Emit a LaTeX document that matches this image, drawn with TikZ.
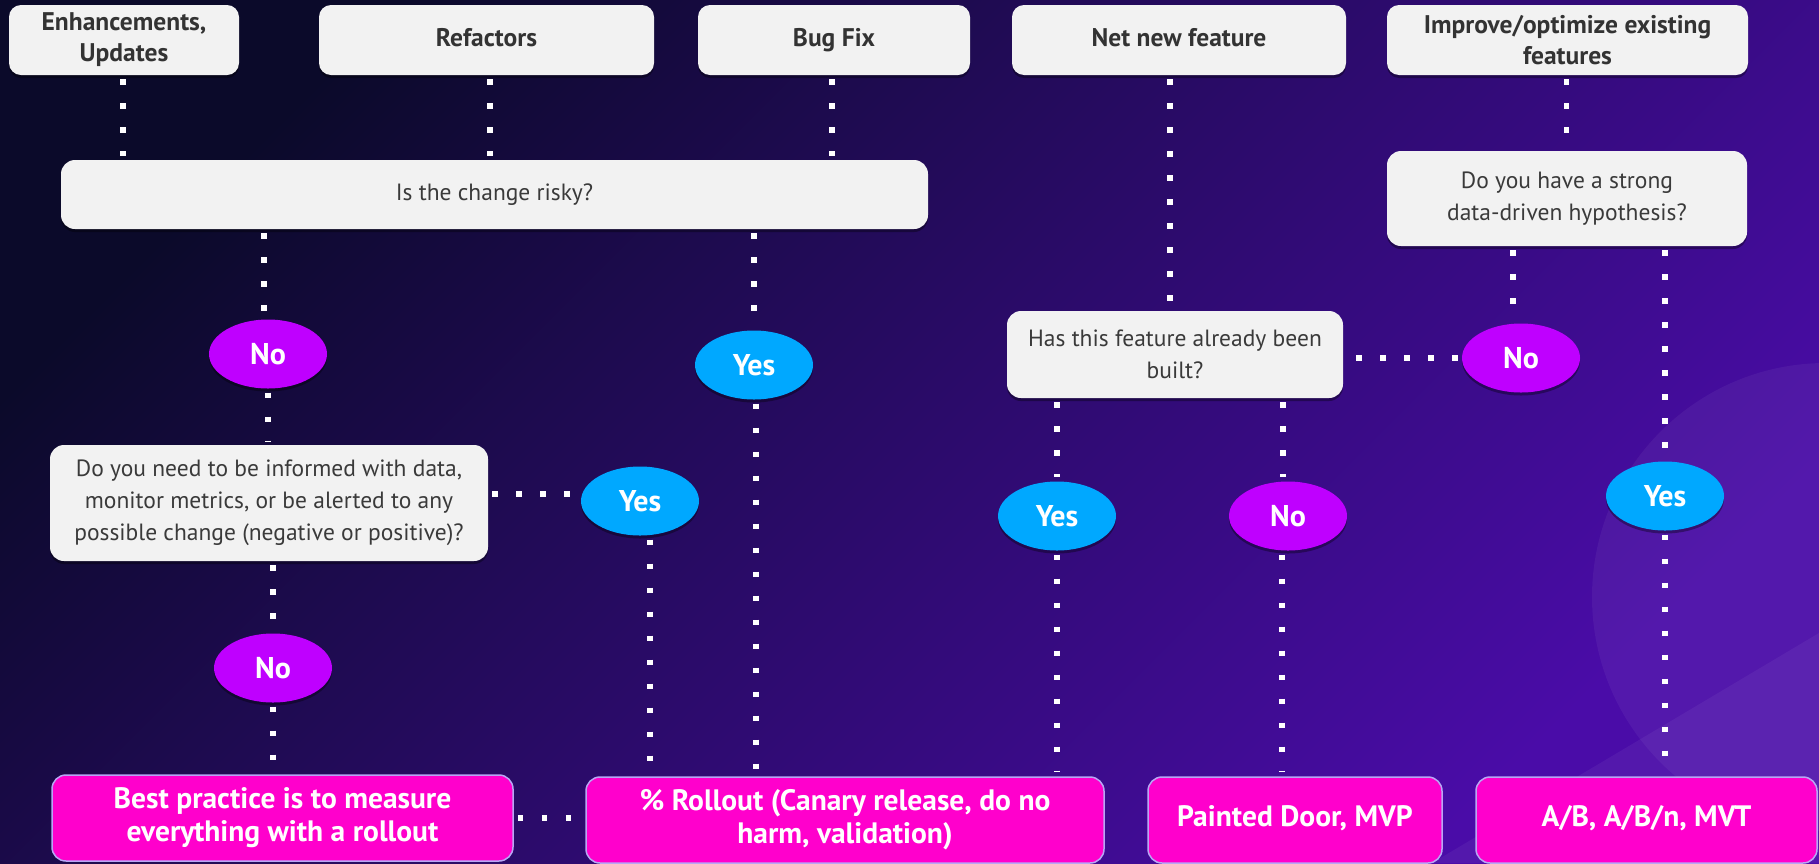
\documentclass[tikz,border=0pt]{standalone}
\usepackage{fontspec}
\setmainfont{PT Sans}
\usetikzlibrary{shapes.geometric,shadows}
\definecolor{bgA}{HTML}{0B0A2A}
\definecolor{bgB}{HTML}{26095F}
\definecolor{bgC}{HTML}{4A0CA8}
\definecolor{boxgray}{HTML}{F2F2F2}
\definecolor{hdrtxt}{HTML}{333333}
\definecolor{qtxt}{HTML}{3A3A3A}
\definecolor{yesblue}{HTML}{00A8FF}
\definecolor{nopurple}{HTML}{BF00FF}
\definecolor{magbox}{HTML}{FF00CC}
\definecolor{lavender}{HTML}{B9A6F5}
\pgfdeclarelayer{bg}
\pgfdeclarelayer{lines}
\pgfsetlayers{bg,lines,main}
\tikzset{
  shadowed/.style={drop shadow={shadow xshift=0pt,shadow yshift=-3pt,opacity=0.35,fill=black}},
  topbox/.style={fill=boxgray, rounded corners=12pt, inner sep=0pt, align=center, text=hdrtxt,
    font=\fontsize{25.5}{31}\selectfont\bfseries, shadowed},
  qbox/.style={fill=boxgray, rounded corners=14pt, inner sep=0pt, align=center, text=qtxt,
    font=\fontsize{23.5}{32}\selectfont, shadowed},
  ans/.style={ellipse, minimum width=118pt, minimum height=69pt, inner sep=0pt, text=white,
    font=\fontsize{30}{34}\selectfont\bfseries, shadowed},
  yesnode/.style={ans, fill=yesblue},
  nonode/.style={ans, fill=nopurple},
  outbox/.style={fill=magbox, draw=lavender, line width=1.5pt, rounded corners=14pt, inner sep=0pt,
    align=center, text=white, font=\fontsize{29.5}{33}\selectfont\bfseries},
  dots/.style={draw=white, line width=5.5pt, dash pattern=on 5.5pt off 18.5pt, shorten <=4pt, shorten >=4pt}
}
\begin{document}
\begin{tikzpicture}[x=1pt,y=-1pt]
\useasboundingbox (0,0) rectangle (1819,863);
\begin{pgfonlayer}{bg}
\begin{scope}
\clip (0,0) rectangle (1819,863);
\shade[top color=bgA, middle color=bgB, bottom color=bgC, shading angle=45] (0,0) rectangle (1819,863);
\fill[white, opacity=0.05] (1826,597) circle[radius=234pt];
\fill[white, opacity=0.05] (1432,863) -- (1819,633) -- (1819,863) -- cycle;
\end{scope}
\end{pgfonlayer}

% top categories
\node[topbox, minimum width=230pt, minimum height=70pt] (enh) at (124,40) {Enhancements,\\Updates};
\node[topbox, minimum width=335pt, minimum height=70pt] (ref) at (486.5,40) {\strut Refactors};
\node[topbox, minimum width=272pt, minimum height=70pt] (bug) at (834,40) {\strut Bug Fix};
\node[topbox, minimum width=334pt, minimum height=70pt] (net) at (1179,40) {\strut Net new feature};
\node[topbox, minimum width=361pt, minimum height=70pt] (imp) at (1567.5,40) {Improve/optimize existing\\features};

% questions
\node[qbox, minimum width=867pt, minimum height=69pt] (risky) at (494.5,194.5) {\strut Is the change risky?};
\node[qbox, minimum width=360pt, minimum height=95pt] (hyp) at (1567,198.5) {Do you have a strong\\data-driven hypothesis?};
\node[qbox, minimum width=336pt, minimum height=87pt] (built) at (1175,354.5) {Has this feature already been\\built?};
\node[qbox, minimum width=438pt, minimum height=116pt] (inf) at (269,503) {Do you need to be informed with data,\\monitor metrics, or be alerted to any\\possible change (negative or positive)?};

% answers
\node[nonode] (no1) at (268,354) {No};
\node[yesnode] (yes1) at (754,365) {Yes};
\node[yesnode] (yes2) at (640,501) {Yes};
\node[nonode] (no2) at (273,668) {No};
\node[yesnode] (yes3) at (1057,516) {Yes};
\node[nonode] (no3) at (1288,516) {No};
\node[nonode] (no4) at (1521,358) {No};
\node[yesnode] (yes4) at (1665,496) {Yes};

% outcomes
\node[outbox, minimum width=461pt, minimum height=86pt] (best) at (282.5,818) {Best practice is to measure\\everything with a rollout};
\node[outbox, minimum width=518pt, minimum height=86pt] (roll) at (845,820) {\% Rollout (Canary release, do no\\harm, validation)};
\node[outbox, minimum width=294pt, minimum height=86pt] (paint) at (1295,820) {\strut Painted Door, MVP};
\node[outbox, minimum width=341pt, minimum height=86pt] (ab) at (1646.5,820) {\strut A/B, A/B/n, MVT};

\coordinate (y2w) at ([yshift=7pt]yes2.west);

\begin{pgfonlayer}{lines}
\draw[dots] ([xshift=-1pt]enh.south) -- ([xshift=-1pt]enh.south |- risky.north);
\draw[dots] ([xshift=3.5pt]ref.south) -- ([xshift=3.5pt]ref.south |- risky.north);
\draw[dots] ([xshift=-2pt]bug.south) -- ([xshift=-2pt]bug.south |- risky.north);
\draw[dots] ([xshift=-4pt]no1.north |- risky.south) -- ([xshift=-4pt]no1.north);
\draw[dots] (no1.south) -- (no1.south |- inf.north);
\draw[dots] (no2.north |- inf.south) -- (no2.north);
\draw[dots] (no2.south) -- (no2.south |- best.north);
\draw[dots] (yes1.north |- risky.south) -- (yes1.north);
\draw[dots] ([xshift=2pt]yes1.south) -- ([xshift=2pt]yes1.south |- roll.north);
\draw[dots] (inf.east |- y2w) -- (y2w);
\draw[dots] ([xshift=10pt]yes2.south) -- ([xshift=10pt]yes2.south |- roll.north);
\draw[dots] (best.east) -- (best.east -| roll.west);
\draw[dots] ([xshift=-9pt]net.south) -- ([xshift=-9pt]net.south |- built.north);
\draw[dots] (yes3.north |- built.south) -- (yes3.north);
\draw[dots] (yes3.south) -- (yes3.south |- roll.north);
\draw[dots] ([xshift=-5pt]no3.north |- built.south) -- ([xshift=-5pt]no3.north);
\draw[dots] ([xshift=-6pt]no3.south) -- ([xshift=-6pt]no3.south |- paint.north);
\draw[dots] (no4.west) -- (no4.west -| built.east);
\draw[dots] ([xshift=-8pt]no4.north |- hyp.south) -- ([xshift=-8pt]no4.north);
\draw[dots] (yes4.north |- hyp.south) -- (yes4.north);
\draw[dots] (yes4.south) -- (yes4.south |- ab.north);
\draw[dots] ([xshift=-1pt]imp.south) -- ([xshift=-1pt]imp.south |- hyp.north);
\end{pgfonlayer}
\end{tikzpicture}
\end{document}
